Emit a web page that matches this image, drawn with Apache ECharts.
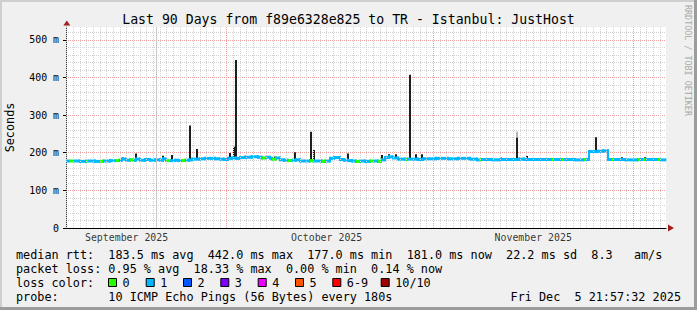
<!DOCTYPE html>
<html><head><meta charset="utf-8">
<script src="https://cdn.jsdelivr.net/npm/echarts@6/dist/echarts.min.js"></script>
<style>html,body{margin:0;padding:0;background:#f0f0f0}#c{width:697px;height:310px}</style>
</head><body><div id="c"></div>
<script>
// ---- time frame ----
const startTime = Date.UTC(2025, 8, 6, 21, 57, 32);
const endTime = Date.UTC(2025, 11, 5, 21, 57, 32);
const DAY = 86400000;

// ---- median rtt (ms), step segments: day offset from start, value, loss count ----
const medianDay = [0,0.6,1.05,2.1,3.0,3.3,4.35,5.1,5.55,6.6,7.5,7.95,8.4,9.0,9.6,10.05,10.5,11.1,11.85,12.6,13.35,14.1,14.55,15.0,15.6,16.35,16.8,17.4,17.85,18.45,18.9,20.1,20.85,22.35,23.1,23.7,24.3,24.9,25.5,26.1,27.0,27.9,28.8,29.4,30.0,30.6,30.9,31.5,32.1,32.7,33.3,33.9,34.5,35.1,36.6,37.05,38.4,38.85,39.6,40.2,41.1,41.7,42.3,42.9,43.5,44.1,44.85,45.6,46.05,46.8,47.25,47.85,48.45,49.05,49.8,50.85,51.15,52.8,53.55,55.5,57.3,58.8,60.6,61.65,61.95,62.25,63.9,65.1,67.35,67.95,68.7,71.1,72.9,73.2,74.4,74.7,76.35,77.7,78.0,78.45,79.8,80.55,81.3,81.9,82.2,83.85,85.8,86.1,86.55,86.85,88.8,89.1];
const medianMs = [178,178,178,177,178,178,177,177,178,179,179,180,183,180,181,180,183,180,182,180,181,180,184,179,179,180,179,179,180,181,183,184,185,184,183,182,185,186,185,187,188,189,188,186,188,185,183,186,181,180,179,180,181,178,179,178,177,178,185,187,182,180,179,178,177,178,177,178,178,177,181,187,189,186,183,182,183,182,184,185,184,185,183,181,181,182,181,182,182,183,182,182,182,182,182,182,181,182,182,203,204,205,182,182,182,181,182,182,182,182,182,181];
const medianLoss = [1,0,1,1,0,1,1,0,1,1,0,1,1,1,0,1,1,1,1,1,1,1,1,0,1,1,1,0,1,1,1,1,1,1,1,1,1,1,1,1,1,1,1,0,1,1,0,1,1,1,0,1,1,1,0,1,0,1,1,1,1,1,1,1,0,1,1,0,1,0,1,1,1,1,1,0,1,1,1,1,1,1,1,1,0,1,1,1,1,1,1,1,0,1,0,1,1,0,1,1,1,1,1,0,1,1,0,1,0,1,0,1];

// ---- dense smoke spikes (ms) ----
const spikeDay  = [8.55,10.5,14.55,15.9,18.6,19.65,24.6,25.2,25.5,26.85,27.75,30.0,31.35,34.35,36.75,37.2,42.3,47.4,48.45,49.5,51.6,52.5,53.4,65.25,67.65,69.15,79.5,83.4,86.85];
const spikeLow  = [181,181,181,179,181,183,185,186,185,188,189,188,186,181,179,178,179,181,189,186,183,182,182,182,182,182,204,181,182];
const spikeHigh = [187,198,192,194,272,210,199,216,446,192,192,190,190,201,256,207,198,194,196,196,407,196,196,187,240,191,241,188,188];
// ---- light smoke ----
const lightDay = [67.65];
const lightLow = [238];
const lightHigh = [256];

// ---- axis labels ----
const monthLabels = ['September 2025', 'October 2025', 'November 2025'];
const monthLabelDates = ['2025-09-16', '2025-10-16', '2025-11-16'];
const monthStarts = ['2025-10-01', '2025-11-01', '2025-12-01'];
const grayLineDate = ['2025-09-20T10:00:00Z'];
const firstGridDay = '2025-09-07';
const lastGridDay = '2025-12-05';

// ---- legend ----
const titleText = 'Last 90 Days from f89e6328e825 to TR - Istanbul: JustHost';
const statLines = [
  'median rtt:  183.5 ms avg  442.0 ms max  177.0 ms min  181.0 ms now  22.2 ms sd  8.3   am/s',
  'packet loss: 0.95 % avg  18.33 % max  0.00 % min  0.14 % now',
  'loss color:',
  'probe:       10 ICMP Echo Pings (56 Bytes) every 180s'
];
const dateStamp = 'Fri Dec  5 21:57:32 2025';
const lossLabels = ['0','1','2','3','4','5','6-9','10/10'];
const lossColors = ['#26ff00','#00b8ff','#0059ff','#7e00ff','#ee00ff','#ff5500','#ff0000','#a10000'];
const lossBoxX = [108,145.7,183,220.3,257.7,295,332.3,380.7];

const MONO = '"DejaVu Sans Mono", monospace';

const tOf = d => startTime + d * DAY;

const medianData = medianDay.map((d, i) => {
  const nextD = i + 1 < medianDay.length ? medianDay[i + 1] : 90;
  const nextV = i + 1 < medianMs.length ? medianMs[i + 1] : medianMs[i];
  return [tOf(d), medianMs[i], medianLoss[i], tOf(nextD), nextV];
});
const spikeData = spikeDay.map((d, i) => [tOf(d), spikeLow[i], spikeHigh[i]]);
const lightData = lightDay.map((d, i) => [tOf(d), lightLow[i], lightHigh[i]]);
const monthLabelData = monthLabels.map((m, i) => [Date.parse(monthLabelDates[i]), 0, m]);

// daily minor grid (midnights)
const dayGrid = [];
for (let t = Date.parse(firstGridDay); t <= Date.parse(lastGridDay); t += DAY) dayGrid.push(t);

function spikeRender(color) {
  return function (params, api) {
    const top = api.coord([api.value(0), api.value(2)]);
    const low = api.coord([api.value(0), api.value(1)]);
    return { type: 'rect', shape: { x: Math.round(top[0]) - 1, y: top[1], width: 2, height: low[1] - top[1] }, style: { fill: color } };
  };
}

const chart = echarts.init(document.getElementById('c'), null, { renderer: 'svg' });

const graphics = [];
// frame
graphics.push({ type: 'rect', shape: { x: 0, y: 0, width: 697, height: 2 }, style: { fill: '#cfcfcf' }, z: 100 });
graphics.push({ type: 'rect', shape: { x: 0, y: 0, width: 2, height: 310 }, style: { fill: '#cfcfcf' }, z: 100 });
graphics.push({ type: 'rect', shape: { x: 694, y: 0, width: 3, height: 310 }, style: { fill: '#9c9c9c' }, z: 100 });
graphics.push({ type: 'rect', shape: { x: 0, y: 307, width: 697, height: 3 }, style: { fill: '#9c9c9c' }, z: 100 });
// title
graphics.push({ type: 'text', x: 348.5, y: 19, style: { text: titleText, font: '13.2px ' + MONO, fill: '#000', align: 'center', verticalAlign: 'middle' } });
// watermark
graphics.push({ type: 'text', x: 688, y: 5, rotation: -Math.PI / 2, style: { text: 'RRDTOOL / TOBI OETIKER', font: '8.4px ' + MONO, fill: '#a8a8a8', align: 'left', verticalAlign: 'middle' } });
// axis arrows
graphics.push({ type: 'polygon', shape: { points: [[63.3, 25.5], [70.3, 25.5], [66.8, 20.5]] }, style: { fill: '#a02020' }, z: 50 });
graphics.push({ type: 'polygon', shape: { points: [[668, 224.5], [668, 231.5], [674, 228]] }, style: { fill: '#a02020' }, z: 50 });
// stat lines
const lineY = [254.5, 268.5, 282.5, 296.5];
statLines.forEach((s, i) => {
  graphics.push({ type: 'text', x: 16, y: lineY[i], style: { text: s, font: '11.8px ' + MONO, fill: '#000', align: 'left', verticalAlign: 'middle' } });
});
graphics.push({ type: 'text', x: 681, y: lineY[3], style: { text: dateStamp, font: '11.8px ' + MONO, fill: '#000', align: 'right', verticalAlign: 'middle' } });
lossLabels.forEach((l, i) => {
  graphics.push({ type: 'rect', shape: { x: lossBoxX[i] + 0.5, y: 278.5, width: 8, height: 8 }, style: { fill: lossColors[i], stroke: '#000', lineWidth: 1 } });
  graphics.push({ type: 'text', x: lossBoxX[i] + 14.5, y: lineY[2], style: { text: l, font: '11.8px ' + MONO, fill: '#000', align: 'left', verticalAlign: 'middle' } });
});

const option = {
  useUTC: true,
  animation: false,
  backgroundColor: '#f0f0f0',
  textStyle: { fontFamily: MONO },
  grid: { left: 66, right: 31, top: 27, bottom: 82, show: true, backgroundColor: '#ffffff', borderWidth: 0,
    containLabel: false, outerBoundsMode: 'none' },
  xAxis: [{
    type: 'time', min: startTime, max: endTime,
    axisLine: { show: true, lineStyle: { color: '#000', width: 1 } },
    axisTick: { show: false },
    axisLabel: { show: false },
    splitLine: { show: false }
  }],
  yAxis: [{
    type: 'value', min: 0, max: 534, interval: 20, position: 'left', offset: 0,
    axisLine: { show: false }, axisTick: { show: false }, axisLabel: { show: false },
    splitLine: { show: true, showMaxLine: false, lineStyle: { color: '#d2d2d2', type: [1, 1], width: 1 } }
  }, {
    type: 'value', min: 0, max: 534, interval: 100, position: 'left', offset: 0,
    name: 'Seconds', nameLocation: 'middle', nameGap: 50, nameRotate: 90,
    nameTextStyle: { fontFamily: MONO, fontSize: 11.8, color: '#000' },
    axisLine: { show: true, lineStyle: { color: '#404040', width: 1 } },
    axisTick: { show: true, length: 3, lineStyle: { color: '#000' } },
    axisLabel: { show: true, showMaxLabel: false, margin: 7, fontFamily: MONO, fontSize: 9.9, color: '#000',
      formatter: v => (v === 0 ? '0' : v + ' m') },
    splitLine: { show: true, showMaxLine: false, lineStyle: { color: '#f0a0a0', type: [1, 1], width: 1 } }
  }],
  series: [{
    type: 'line', xAxisIndex: 0, yAxisIndex: 1, data: [[startTime, 0]], showSymbol: false, silent: true,
    lineStyle: { width: 0, opacity: 0 }, z: 1,
    markLine: {
      silent: true, symbol: ['none', 'none'], label: { show: false }, animation: false,
      data: dayGrid.map(t => ({ xAxis: t, lineStyle: { color: '#d2d2d2', type: [1, 1], width: 1 } }))
        .concat(monthStarts.map(d => ({ xAxis: Date.parse(d), lineStyle: { color: '#f0a0a0', type: [1, 1], width: 1 } })))
        .concat(grayLineDate.map(d => ({ xAxis: Date.parse(d), lineStyle: { color: '#c8c8c8', type: 'solid', width: 1 } })))
    }
  }, {
    type: 'custom', name: 'light smoke', xAxisIndex: 0, yAxisIndex: 1, data: lightData,
    encode: { x: 0, y: [1, 2] }, renderItem: spikeRender('#b4b4b4'), z: 2, silent: true
  }, {
    type: 'custom', name: 'smoke', xAxisIndex: 0, yAxisIndex: 1, data: spikeData,
    encode: { x: 0, y: [1, 2] }, renderItem: spikeRender('#1e1e1e'), z: 3, silent: true
  }, {
    type: 'custom', name: 'median rtt', xAxisIndex: 0, yAxisIndex: 1, data: medianData,
    encode: { x: 0, y: 1 }, z: 4, silent: true,
    renderItem: function (params, api) {
      const t0 = api.value(0), v = api.value(1), loss = api.value(2), t1 = api.value(3), v1 = api.value(4);
      const p0 = api.coord([t0, v]);
      const p1 = api.coord([t1, v]);
      const p2 = api.coord([t1, v1]);
      const color = lossColors[loss];
      const children = [{ type: 'rect', shape: { x: p0[0], y: p0[1] - 1.5, width: p1[0] - p0[0] + 0.3, height: 3 }, style: { fill: color } }];
      if (v1 !== v) {
        children.push({ type: 'rect', shape: { x: p1[0] - 1, y: Math.min(p1[1], p2[1]) - 1.5, width: 2, height: Math.abs(p2[1] - p1[1]) + 3 }, style: { fill: color } });
      }
      return { type: 'group', children: children };
    }
  }, {
    type: 'scatter', name: 'months', xAxisIndex: 0, yAxisIndex: 1, data: monthLabelData,
    symbolSize: 1, itemStyle: { color: 'rgba(0,0,0,0)' }, clip: false, silent: true,
    label: { show: true, position: 'bottom', distance: 4, fontFamily: MONO, fontSize: 9.9, color: '#000',
      formatter: p => p.value[2] }
  }],
  graphic: graphics
};
chart.setOption(option);
</script>
</body></html>
